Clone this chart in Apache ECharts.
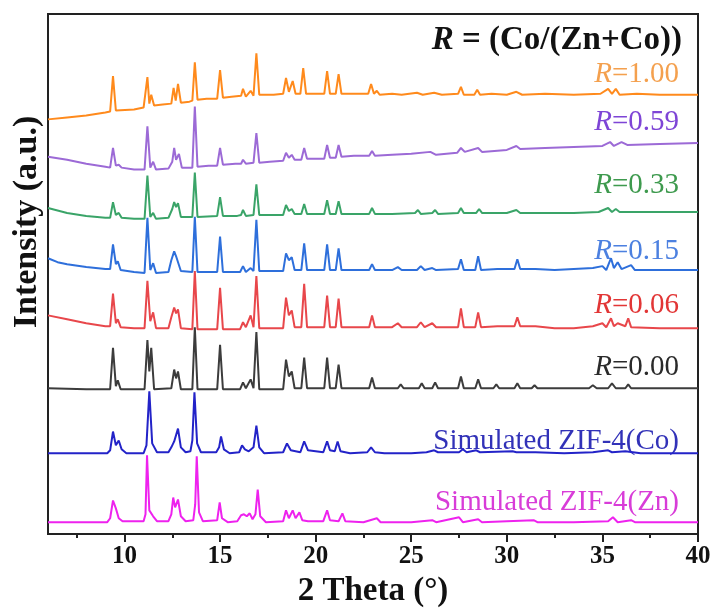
<!DOCTYPE html>
<html>
<head>
<meta charset="utf-8">
<script src="https://cdn.jsdelivr.net/npm/echarts@6/dist/echarts.min.js"></script>
<style>html,body{margin:0;padding:0;background:#fff}#c{width:716px;height:613px}</style>
</head>
<body>
<div id="c"></div>
<script>
// x tick values and minor ticks (2 Theta, degrees)
const majorTicks = [10, 15, 20, 25, 30, 35, 40];
const minorTicks = [7.5, 12.5, 17.5, 22.5, 27.5, 32.5, 37.5];

// Stacked XRD traces: [2θ, intensity (a.u., stacked)]
const traceR100 = [[6.0,421],[7.0,423],[8.0,425],[9.0,428],[9.25,429],[9.4,465],[9.55,430],[10.5,431],[11.0,433],[11.1,434],[11.2,464],[11.3,437],[11.4,446],[11.55,435],[12.0,436],[12.45,437],[12.57,453],[12.68,440],[12.8,457],[12.95,438],[13.4,439],[13.55,440],[13.68,479],[13.82,441],[14.3,442],[14.85,442],[15.0,471],[15.15,443],[15.6,444],[16.1,445],[16.2,452],[16.35,444],[16.6,450],[16.75,445],[16.9,488],[17.05,446],[17.8,446],[18.3,447],[18.45,463],[18.6,449],[18.8,460],[18.95,447],[19.2,447],[19.35,473],[19.5,447],[20.0,447],[20.45,447],[20.6,470],[20.75,447],[21.05,447],[21.2,467],[21.35,447],[22.0,447],[22.75,447],[22.9,457],[23.05,447],[23.2,450],[23.35,446],[24.0,447],[24.5,446],[25.3,448],[25.6,446],[26.2,448],[26.6,446],[27.45,447],[27.6,454],[27.75,446],[28.3,446],[28.45,451],[28.6,446],[29.2,447],[30.0,446],[30.5,449],[30.8,446],[32.0,447],[33.5,446],[34.9,447],[35.3,452],[35.5,447],[35.7,452],[35.9,446],[36.8,447],[38.0,446],[40.0,446]];
const traceR059 = [[6.0,383],[7.0,380],[8.0,376],[9.0,373],[9.25,372],[9.4,392],[9.55,374],[9.7,375],[9.85,372],[10.5,370],[11.05,370],[11.2,414],[11.35,372],[11.5,378],[11.65,370],[12.3,371],[12.5,378],[12.6,392],[12.7,380],[12.85,386],[13.0,372],[13.55,372],[13.68,434],[13.82,373],[14.4,374],[14.85,374],[15.0,392],[15.15,375],[15.8,376],[16.1,376],[16.2,380],[16.35,376],[16.75,377],[16.9,407],[17.05,377],[17.6,378],[18.3,379],[18.45,387],[18.6,382],[18.75,385],[18.9,380],[19.25,380],[19.4,392],[19.55,381],[20.45,381],[20.6,395],[20.75,382],[21.05,382],[21.2,395],[21.35,383],[22.0,384],[22.8,384],[22.95,389],[23.1,384],[24.0,385],[25.0,386],[26.0,388],[26.3,385],[27.4,387],[27.6,392],[27.8,388],[28.5,392],[28.7,388],[30.0,390],[30.5,394],[30.7,391],[32.0,392],[33.5,393],[35.0,394],[35.4,398],[35.6,394],[36.0,398],[36.3,395],[38.0,396],[40.0,397]];
const traceR033 = [[6.0,331],[7.0,326],[8.0,323],[9.0,321],[9.25,321],[9.4,337],[9.55,324],[9.7,326],[9.85,321],[10.5,320],[11.05,320],[11.2,364],[11.35,322],[11.5,326],[11.65,320],[12.3,321],[12.5,330],[12.6,337],[12.7,332],[12.8,336],[12.95,322],[13.55,322],[13.68,367],[13.82,322],[14.85,323],[15.0,342],[15.15,323],[15.9,323],[16.1,324],[16.2,329],[16.35,323],[16.75,324],[16.9,355],[17.05,324],[18.3,324],[18.45,334],[18.6,328],[18.75,330],[18.9,325],[19.25,325],[19.4,335],[19.55,325],[20.45,325],[20.6,339],[20.75,325],[21.05,325],[21.2,338],[21.35,325],[22.0,325],[22.8,325],[22.95,331],[23.1,325],[24.0,325],[25.2,326],[25.35,329],[25.5,325],[26.1,326],[26.25,329],[26.4,325],[27.45,326],[27.6,331],[27.75,326],[28.4,326],[28.55,330],[28.7,326],[30.0,326],[30.5,329],[30.7,326],[32.0,326],[33.5,326],[34.8,327],[35.3,331],[35.5,327],[35.7,330],[35.9,327],[37.0,327],[38.0,327],[40.0,327]];
const traceR015 = [[6.0,280],[6.5,276],[7.0,274],[8.0,271],[9.0,269],[9.25,269],[9.4,294],[9.55,274],[9.65,277],[9.8,268],[10.5,266],[11.05,265],[11.2,321],[11.35,268],[11.5,275],[11.65,265],[12.3,266],[12.45,278],[12.6,287],[12.7,282],[12.8,284],[12.95,267],[13.55,266],[13.68,322],[13.82,266],[14.85,266],[15.0,302],[15.15,266],[16.05,266],[16.2,272],[16.35,266],[16.6,270],[16.75,267],[16.9,319],[17.05,267],[18.3,267],[18.45,285],[18.6,278],[18.75,281],[18.9,268],[19.25,268],[19.4,295],[19.55,268],[20.45,268],[20.6,294],[20.75,268],[21.05,268],[21.2,290],[21.35,268],[22.0,268],[22.8,268],[22.95,274],[23.1,268],[24.0,268],[24.3,271],[24.5,268],[25.3,268],[25.5,272],[25.7,268],[26.1,270],[26.3,268],[27.45,269],[27.6,279],[27.75,268],[28.35,268],[28.5,282],[28.65,268],[29.5,269],[30.4,269],[30.55,279],[30.7,269],[31.5,269],[32.5,268],[33.5,269],[34.5,270],[35.0,272],[35.2,268],[35.45,280],[35.6,270],[35.8,276],[36.0,269],[36.5,273],[36.7,268],[38.0,268],[40.0,268]];
const traceR006 = [[6.0,222],[7.0,218],[8.0,214],[9.0,211],[9.25,211],[9.4,244],[9.55,214],[9.65,218],[9.8,210],[10.5,209],[11.05,209],[11.2,257],[11.35,216],[11.5,225],[11.65,209],[12.3,209],[12.45,220],[12.6,230],[12.7,224],[12.8,228],[12.95,209],[13.55,208],[13.68,267],[13.82,208],[14.85,208],[15.0,250],[15.15,208],[16.05,208],[16.2,215],[16.35,210],[16.6,222],[16.75,210],[16.9,262],[17.05,209],[18.3,209],[18.45,240],[18.6,222],[18.75,227],[18.9,210],[19.25,210],[19.4,254],[19.55,210],[20.45,210],[20.6,242],[20.75,210],[21.05,210],[21.2,239],[21.35,210],[22.0,210],[22.8,210],[22.95,222],[23.1,210],[24.0,210],[24.3,214],[24.5,210],[25.3,210],[25.5,215],[25.7,210],[26.1,214],[26.3,210],[27.45,210],[27.6,229],[27.75,210],[28.35,210],[28.5,225],[28.65,210],[29.5,211],[30.4,211],[30.55,220],[30.7,211],[31.5,211],[32.5,209],[33.5,209],[34.5,211],[35.0,214],[35.2,210],[35.45,219],[35.6,211],[35.8,214],[36.2,211],[36.35,219],[36.5,210],[38.0,209],[40.0,209]];
const traceR000 = [[6.0,148],[8.0,147],[9.25,147],[9.4,189],[9.55,150],[9.65,156],[9.8,147],[11.05,147],[11.2,197],[11.3,165],[11.4,189],[11.55,147],[12.45,148],[12.6,167],[12.7,158],[12.8,165],[12.95,147],[13.55,147],[13.68,210],[13.82,147],[14.85,147],[15.0,192],[15.15,147],[16.05,147],[16.2,154],[16.35,148],[16.6,157],[16.75,148],[16.9,205],[17.05,147],[18.3,147],[18.45,177],[18.6,160],[18.75,165],[18.9,148],[19.25,148],[19.4,179],[19.55,148],[20.45,148],[20.6,179],[20.75,148],[21.05,148],[21.2,172],[21.35,148],[22.8,148],[22.95,159],[23.1,148],[24.3,148],[24.45,152],[24.6,148],[25.4,148],[25.55,153],[25.7,148],[26.1,148],[26.25,154],[26.4,148],[27.45,148],[27.6,160],[27.75,148],[28.35,148],[28.5,157],[28.65,148],[29.3,148],[29.45,152],[29.6,148],[30.4,148],[30.55,153],[30.7,148],[31.3,148],[31.45,151],[31.6,148],[33.0,148],[34.3,148],[34.5,151],[34.7,148],[35.3,148],[35.5,153],[35.7,148],[36.2,148],[36.35,152],[36.5,148],[38.0,148],[40.0,148]];
const traceSimCo = [[6.0,82],[9.1,82],[9.25,85],[9.4,104],[9.55,90],[9.7,95],[9.85,86],[10.1,82],[11.0,82],[11.15,90],[11.3,145],[11.45,92],[11.7,83],[12.3,83],[12.45,88],[12.6,94],[12.68,92],[12.8,107],[12.95,88],[13.2,83],[13.45,84],[13.55,95],[13.66,144],[13.8,92],[14.0,83],[14.8,83],[14.95,88],[15.05,99],[15.2,86],[15.5,82],[16.0,83],[16.15,90],[16.3,86],[16.5,84],[16.75,88],[16.9,110],[17.05,88],[17.3,82],[18.3,83],[18.5,92],[18.7,85],[19.2,83],[19.4,94],[19.6,85],[20.4,83],[20.6,94],[20.75,85],[21.0,84],[21.15,94],[21.3,84],[21.8,82],[22.7,83],[22.9,88],[23.1,83],[23.6,82],[25.0,82],[25.8,83],[26.2,85],[26.4,83],[27.5,83],[27.7,86],[27.9,83],[28.4,85],[28.6,83],[30.3,84],[30.5,83],[31.5,83],[33.0,82],[34.5,83],[35.3,85],[35.5,83],[36.2,84],[37.0,82],[40.0,82]];
const traceSimZn = [[6.0,12],[9.1,12],[9.25,16],[9.4,34],[9.55,26],[9.7,16],[9.9,13],[11.0,13],[11.1,20],[11.18,80],[11.3,24],[11.5,18],[11.7,13],[12.3,13],[12.45,20],[12.55,37],[12.65,27],[12.8,35],[12.95,18],[13.2,13],[13.6,14],[13.7,30],[13.78,79],[13.9,22],[14.1,13],[14.85,14],[14.98,32],[15.1,16],[15.4,12],[15.9,13],[16.1,19],[16.25,20],[16.4,18],[16.55,21],[16.7,15],[16.85,20],[16.97,45],[17.1,18],[17.4,12],[18.3,13],[18.45,24],[18.6,16],[18.8,24],[18.95,16],[19.15,22],[19.3,14],[19.6,13],[20.4,13],[20.6,24],[20.75,14],[21.2,13],[21.4,21],[21.55,13],[22.5,12],[23.2,16],[23.4,12],[25.0,12],[26.1,14],[26.3,12],[27.5,17],[27.7,12],[28.5,15],[28.7,12],[30.0,13],[31.4,14],[31.6,12],[33.5,12],[35.3,13],[35.55,17],[35.8,12],[36.5,14],[36.7,12],[38.0,12],[40.0,12]];

const traceNames = ['R=1.00','R=0.59','R=0.33','R=0.15','R=0.06','R=0.00','Simulated ZIF-4(Co)','Simulated ZIF-4(Zn)'];
const traces = [traceR100, traceR059, traceR033, traceR015, traceR006, traceR000, traceSimCo, traceSimZn];
const lineColors = ['#FF8A1C','#9C6AD6','#3AA468','#2E6FDB','#E8474B','#3C3C3C','#2323C8','#EE22EE'];
const textColors = ['#F4A04E','#7E45D6','#3E9A4E','#4C80E0','#E23636','#2A2A2A','#3232B8','#D83CD8'];
const labelY = [76, 124, 187, 253, 307, 369, 443, 504];

const serif = "'Liberation Serif','Times New Roman',serif";
const chart = echarts.init(document.getElementById('c'), null, {renderer: 'canvas'});

const series = traces.map((d, i) => ({
  name: traceNames[i], type: 'line', data: d, showSymbol: false, smooth: false,
  lineStyle: {color: lineColors[i], width: 2}, itemStyle: {color: lineColors[i]},
  z: 2 + i, animation: false
}));

const graphics = [];
traceNames.forEach((n, i) => {
  let text;
  if (n.startsWith('R=')) text = '{i|R}{n|' + n.slice(1) + '}';
  else text = '{n|' + n + '}';
  graphics.push({
    type: 'text', right: 37, top: labelY[i] - 16,
    style: {text: text, fill: textColors[i],
      rich: {i: {fontFamily: serif, fontStyle: 'italic', fontSize: 29, fill: textColors[i]},
             n: {fontFamily: serif, fontSize: 29, fill: textColors[i]}}}
  });
});
graphics.push({
  type: 'text', right: 34, top: 24,
  style: {text: '{i|R}{n| = (Co/(Zn+Co))}',
    rich: {i: {fontFamily: serif, fontStyle: 'italic', fontWeight: 'bold', fontSize: 33, fill: '#111'},
           n: {fontFamily: serif, fontWeight: 'bold', fontSize: 33, fill: '#111'}}}
});
graphics.push({
  type: 'text', x: 27, y: 222, rotation: Math.PI / 2,
  style: {text: 'Intensity (a.u.)', fontFamily: serif, fontWeight: 'bold', fontSize: 34,
    fill: '#111', align: 'center', verticalAlign: 'middle'}
});

chart.setOption({
  animation: false,
  backgroundColor: '#fff',
  grid: {left: 48, right: 18, top: 14, bottom: 70, show: true, borderColor: '#222', borderWidth: 2, backgroundColor: 'transparent'},
  xAxis: [{
    type: 'value', min: 6, max: 40,
    name: '2 Theta (°)', nameLocation: 'middle', nameGap: 41,
    nameTextStyle: {fontFamily: serif, fontWeight: 'bold', fontSize: 33, color: '#111'},
    axisLine: {show: true, lineStyle: {color: '#222', width: 2}},
    axisTick: {show: true, inside: false, length: 8, lineStyle: {color: '#222', width: 2}, customValues: majorTicks},
    axisLabel: {fontFamily: serif, fontWeight: 'bold', fontSize: 25, color: '#111', margin: 10, customValues: majorTicks},
    splitLine: {show: false}
  }, {
    type: 'value', min: 6, max: 40, position: 'bottom',
    axisLine: {show: false},
    axisTick: {show: true, inside: false, length: 4, lineStyle: {color: '#222', width: 2}, customValues: minorTicks},
    axisLabel: {show: false, customValues: minorTicks},
    splitLine: {show: false}
  }],
  yAxis: {type: 'value', min: 0, max: 528, show: false},
  series: series,
  graphic: graphics
});
</script>
</body>
</html>
